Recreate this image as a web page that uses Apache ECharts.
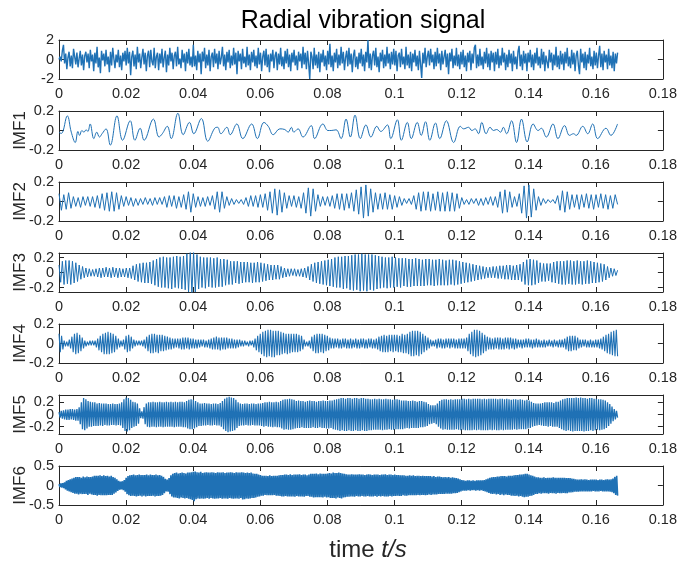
<!DOCTYPE html>
<html><head><meta charset="utf-8">
<script src="https://cdn.jsdelivr.net/npm/echarts@6/dist/echarts.min.js"></script>
<style>html,body{margin:0;padding:0;background:#fff}#c{width:680px;height:562px}</style>
</head><body><div id="c"></div>
<script>
// ---------- data ----------
const DURATION = 0.1665; // s, end of record
const xTicks = [0, 0.02, 0.04, 0.06, 0.08, 0.1, 0.12, 0.14, 0.16, 0.18];
const panelNames = ['', 'IMF1', 'IMF2', 'IMF3', 'IMF4', 'IMF5', 'IMF6'];
const yTicks = [[-2, 0, 2], [-0.2, 0, 0.2], [-0.2, 0, 0.2], [-0.2, 0, 0.2], [-0.2, 0, 0.2], [-0.2, 0, 0.2], [-0.5, 0, 0.5]];
const yLimits = [[-2, 2], [-0.2, 0.2], [-0.2, 0.2], [-0.26, 0.26], [-0.2, 0.2], [-0.32, 0.32], [-0.5, 0.5]];

const raw = [
0,.3,-.2,.9,1.5,-.4,.6,-1,.2,.8,-.7,.4,-.9,1.1,.3,-.5,.7,-.8,.1,.9,-.6,.5,-1.1,.4,.8,-.3,.6,-.9,1,-.2,
.5,-1.2,.7,-.4,1.3,-.8,.2,-1.4,.9,-.1,.6,-.7,1,-.5,.3,-1.3,.8,-.6,1.2,.1,-.9,.5,-.3,1,-.8,.4,-1.1,.7,-.2,.9,
-.6,1.2,-.4,.8,-1.6,.3,.9,-.7,.5,-1,1.3,-.3,.6,-.9,.2,1.1,-.5,.7,-1.2,.4,.9,-.8,1,-.2,-.6,1.2,-.9,.3,.7,-1.1,
.6,-.4,1.1,-.8,.2,.9,-1.3,.5,-.6,1.2,-.2,.7,-1,.4,.8,-.7,1.3,-.5,.1,-.9,1,-.3,.6,-1.2,.8,-.4,1.1,-.6,.3,-.8,
1.5,-.7,.4,-1.1,.9,-.3,.6,-1.5,.8,-.2,1.2,-.9,.5,-.6,1,-1.2,.3,.7,-.8,1.1,-.4,.6,-1,.9,-.5,.2,1.3,-.7,.5,-1.1,
.8,-.3,1,-.9,.4,-.6,1.2,-.5,.7,-1.5,.9,-.2,.6,-1,1.1,-.4,.3,-.8,1.3,-.6,.5,-1.1,.8,-.3,1,-.7,.4,-.9,1.2,-.5,
.7,-1.2,.3,.9,-.6,1.1,-.8,.5,-1.3,.6,-.2,1,-.9,.4,.8,-1.1,.6,-.5,1.2,-.7,.3,-1,.9,-.4,1.1,-.8,.5,-1.2,.7,-.3,
1,-.6,.4,-1.1,.8,-.2,.6,-.9,1.3,-.5,.7,-1,.9,-.4,-2,.8,.3,-1,1.2,-.6,.5,-.9,.8,-1.3,.6,-.3,1,-.7,.4,-1.1,
.9,-.5,1.6,-.8,.4,-1.2,.7,-.3,1.1,-.9,.5,-.6,1.3,-.4,.8,-1.1,.2,.9,-.7,1.2,-.5,.6,-1.3,.4,1,-.8,.3,-1,.7,-.4,
1.1,-.7,.5,-1.2,.8,-.3,2,-.9,.6,-1.1,.4,.9,-.6,1.2,-.8,.3,-1.3,.7,-.2,1,-.9,.5,-.7,1.3,-.4,.6,-1,.8,-.5,1.1,
-.6,.9,-1.2,.4,.7,-.8,1.1,-.5,.3,-1,1.3,-.6,.5,-.9,.8,-1.2,.6,-.3,1,-.7,.4,-1.1,.9,-.5,-1.9,.7,-.4,1.2,-.8,.3,
.9,-.6,1.1,-.3,.5,-1,.8,-.7,1.2,-.4,.6,-1.1,.9,-.5,.3,1,-.8,.6,-1.5,.7,-.2,1.1,-.9,.4,-.6,1.2,-.7,.5,-1,.8,
-.5,1,-.8,.4,-1.2,.7,-.3,.9,-1.1,.6,-.4,1.2,1.5,-.9,.5,-.7,1.1,-.6,.3,-1,.8,-.4,1.2,-.8,.6,-1.1,.9,-.3,.7,-1.2,
.8,-.5,1.1,-.9,.4,-.6,1.2,-.3,.7,-1.1,.5,-.8,1,-.4,.6,-1.2,.9,-.5,.3,-1,.8,1.4,-.7,.5,-1.1,.9,-.4,.6,-1.2,.7,
-.3,1,-.8,.5,-1.1,.7,-.4,1.2,-.6,.3,-.9,1.1,-.5,.8,-1.2,.4,.6,-.9,1,-.3,.7,-1.1,.5,-.6,1.3,-.8,.4,-1,.9,-.5,
.6,-1.1,.8,-.4,1.2,-.7,.3,-.9,1,-.5,.7,-1.2,.4,.9,-.6,-1.5,1.1,-.3,.6,-.9,.8,-1.1,.5,-.4,1.2,-.7,.3,-1,.9,-.6,
.7,-.9,.4,1.4,-.8,.6,-1.1,.9,-.3,.5,-1,1.1,-.6,.4,-.9,.8,-1.2,.6,-.4,.7
];

const imf1T = [0,0.0007,0.00248,0.00366,0.00485,0.00563,0.00613,0.00682,0.00741,0.0081,
0.0086,0.00929,0.01037,0.01126,0.01205,0.01284,0.01402,0.0153,0.01728,0.01896,
0.02123,0.02261,0.02419,0.02537,0.02813,0.02981,0.0308,0.03228,0.03346,0.03544,
0.03701,0.03889,0.04017,0.04244,0.04432,0.04639,0.04728,0.04826,0.05004,0.05103,
0.053,0.05478,0.05744,0.05912,0.06109,0.06237,0.06386,0.06583,0.06731,0.0683,
0.06928,0.06997,0.07126,0.07274,0.0752,0.07619,0.07866,0.08014,0.08112,0.0826,
0.08408,0.08556,0.08685,0.08823,0.08981,0.09148,0.09296,0.09474,0.09592,0.0979,
0.09889,0.10086,0.10204,0.10382,0.105,0.10678,0.10796,0.10925,0.11053,0.11221,
0.11349,0.11546,0.11763,0.11961,0.1206,0.12207,0.12306,0.12405,0.12504,0.12602,
0.1273,0.12849,0.12948,0.13046,0.13165,0.13244,0.13342,0.1349,0.13638,0.13786,
0.13954,0.14132,0.1428,0.14378,0.14526,0.14724,0.14872,0.15069,0.15217,0.15335,
0.15415,0.15612,0.1576,0.15908,0.16056,0.16303,0.16451,0.16648];
const imf1V = [-0.02,-0.03,0.15,-0.017,-0.123,-0.01,-0.05,0,-0.017,0.007,
-0.01,0.067,-0.083,-0.017,-0.067,-0.033,0.017,-0.15,0.15,-0.1,
0.1,-0.1,0.023,-0.1,0.117,-0.067,-0.033,0.043,-0.083,0.177,
-0.043,0.083,-0.033,0.123,-0.11,0.023,0.033,-0.033,0.033,-0.043,
0.067,-0.083,0.067,-0.083,0.083,0.043,-0.043,0.017,0.01,-0.017,
0.033,-0.017,0.017,-0.067,0.05,-0.083,0.067,0,0,0.007,
-0.083,0.117,-0.067,0.157,-0.083,0.057,-0.067,0.043,-0.01,0.057,
-0.083,0.11,-0.1,0.083,-0.083,0.083,-0.05,0.09,-0.1,0.077,
-0.083,0.1,-0.123,0.043,0.017,0.033,0,0.017,-0.033,0.083,
-0.033,0.033,0,0.01,-0.017,0.033,-0.033,0.1,-0.123,0.117,
-0.117,0.067,0,0.023,-0.067,0.067,-0.083,0.05,-0.05,-0.033,
-0.05,0.043,-0.033,0.067,-0.083,0.023,-0.05,0.067];

const imf2 = [
.08,-.09,.07,-.08,.09,-.07,.05,-.05,.04,-.06,.05,-.04,.05,-.05,
.05,-.06,.06,-.07,.08,-.09,.09,-.1,.1,-.1,.09,-.08,.06,-.05,
.05,-.04,.04,-.05,.03,-.04,.03,-.03,.04,-.03,.03,-.04,.04,-.03,
.04,-.03,.05,-.06,.06,-.05,.06,-.07,.05,-.06,.07,-.08,.1,-.11,
.08,-.06,.05,-.05,.04,-.05,.05,-.04,.06,-.08,.1,-.11,.1,-.07,
.05,-.04,.03,-.03,.02,-.02,.02,-.03,.04,-.05,.06,-.05,.06,-.06,
.07,-.06,.08,-.09,.1,-.12,.13,-.14,.12,-.11,.09,-.07,.06,-.05,
.06,-.06,.05,-.07,.09,-.12,.14,-.15,.13,-.1,.07,-.05,.05,-.04,
.05,-.05,.06,-.07,.08,-.08,.08,-.09,.08,-.07,.09,-.1,.12,-.13,
.15,-.17,.17,-.15,.13,-.11,.09,-.08,.08,-.08,.09,-.08,.07,-.08,
.06,-.06,.05,-.04,.03,-.02,.03,-.03,.06,-.08,.09,-.1,.1,-.09,
.1,-.1,.08,-.09,.1,-.1,.09,-.1,.1,-.1,.09,-.1,.08,-.07,
.04,-.03,.02,-.03,.03,-.02,.03,-.04,.03,-.04,.04,-.03,.05,-.04,
.05,-.06,.1,-.12,.12,-.11,.1,-.06,.05,-.05,.08,-.12,.16,-.17,
.17,-.16,.13,-.09,.05,-.04,.03,-.02,.02,-.01,.02,-.02,.06,-.09,
.11,-.11,.1,-.08,.07,-.06,.07,-.08,.07,-.06,.08,-.07,.07,-.08,
.07,-.06,.08,-.07,.07,-.08,.06,-.07,.07,-.03
];

const imf3 = [
.1,-.13,.15,-.16,.16,-.15,.16,-.16,.15,-.14,.13,-.12,.1,-.09,.08,-.07,.06,-.06,.05,-.05,
.04,-.05,.05,-.06,.06,-.07,.06,-.06,.07,-.06,.06,-.07,.07,-.06,.06,-.07,.06,-.06,.05,-.06,
.06,-.07,.06,-.08,.09,-.1,.11,-.12,.12,-.13,.13,-.14,.13,-.14,.14,-.15,.16,-.17,.18,-.19,
.2,-.2,.21,-.2,.2,-.21,.2,-.22,.21,-.2,.22,-.21,.21,-.22,.22,-.23,.25,-.26,.27,-.27,
.27,-.26,.24,-.22,.21,-.2,.2,-.21,.2,-.19,.2,-.2,.19,-.2,.2,-.19,.18,-.19,.18,-.17,
.17,-.16,.15,-.16,.15,-.14,.15,-.15,.14,-.14,.14,-.13,.14,-.13,.13,-.14,.13,-.13,.14,-.13,
.13,-.12,.12,-.11,.11,-.1,.1,-.1,.1,-.09,.1,-.09,.08,-.07,.06,-.06,.05,-.05,.05,-.04,
.05,-.05,.04,-.05,.05,-.06,.06,-.07,.08,-.1,.11,-.12,.13,-.14,.14,-.15,.15,-.16,.16,-.17,
.17,-.18,.18,-.19,.2,-.2,.21,-.2,.21,-.22,.22,-.21,.22,-.23,.23,-.24,.24,-.23,.24,-.25,
.25,-.24,.24,-.25,.24,-.23,.24,-.24,.23,-.22,.22,-.21,.21,-.2,.2,-.21,.2,-.2,.21,-.2,
.2,-.19,.19,-.2,.19,-.18,.19,-.19,.18,-.19,.18,-.18,.19,-.18,.18,-.18,.17,-.18,.18,-.17,
.18,-.17,.17,-.18,.17,-.17,.18,-.17,.17,-.17,.16,-.17,.17,-.16,.17,-.17,.16,-.16,.15,-.15,
.14,-.14,.13,-.13,.12,-.12,.11,-.11,.1,-.1,.09,-.09,.08,-.08,.07,-.07,.07,-.07,.08,-.07,
.08,-.08,.09,-.08,.09,-.09,.1,-.09,.1,-.1,.09,-.1,.1,-.1,.11,-.12,.14,-.16,.17,-.17,
.18,-.17,.17,-.16,.16,-.14,.13,-.12,.12,-.12,.12,-.11,.12,-.13,.14,-.14,.15,-.15,.15,-.16,
.15,-.16,.16,-.15,.16,-.16,.15,-.16,.16,-.15,.15,-.16,.15,-.15,.16,-.15,.15,-.14,.14,-.14,
.13,-.13,.12,-.12,.11,-.1,.08,-.07,.06,-.05,.05,-.04,.03
];

const imf4 = [
.1,-.09,.08,-.06,.03,-.03,.02,-.03,.04,-.05,.07,-.09,.1,-.11,.11,-.1,.09,-.08,.06,-.05,.03,-.03,.02,-.02,.03,-.02,
.03,-.02,.03,-.04,.05,-.07,.08,-.09,.1,-.11,.11,-.11,.12,-.11,.11,-.1,.1,-.09,.08,-.06,.05,-.04,.03,-.03,.04,-.06,
.08,-.09,.09,-.08,.07,-.05,.04,-.03,.03,-.02,.03,-.02,.03,-.03,.04,-.05,.07,-.08,.09,-.1,.1,-.1,.1,-.09,.09,-.1,
.09,-.08,.09,-.08,.08,-.07,.07,-.06,.06,-.06,.05,-.05,.05,-.04,.05,-.05,.05,-.06,.06,-.06,.06,-.05,.06,-.06,.05,-.05,
.05,-.05,.04,-.05,.04,-.04,.04,-.03,.04,-.04,.03,-.04,.04,-.05,.05,-.06,.06,-.06,.07,-.06,.06,-.07,.06,-.06,.06,-.06,
.06,-.05,.05,-.05,.05,-.05,.04,-.05,.04,-.04,.04,-.03,.03,-.03,.03,-.02,.02,-.03,.03,-.02,.03,-.04,.05,-.07,.08,-.09,
.1,-.11,.12,-.13,.13,-.14,.14,-.13,.14,-.14,.13,-.14,.13,-.12,.13,-.12,.12,-.11,.11,-.1,.1,-.11,.1,-.1,.1,-.09,
.1,-.09,.1,-.09,.09,-.08,.08,-.06,.04,-.03,.02,-.03,.03,-.05,.07,-.08,.09,-.1,.1,-.1,.1,-.09,.1,-.1,.09,-.08,
.08,-.07,.06,-.05,.05,-.05,.05,-.04,.05,-.05,.04,-.05,.05,-.04,.05,-.05,.04,-.05,.05,-.05,.04,-.04,.05,-.05,.04,-.05,
.05,-.04,.05,-.05,.04,-.05,.05,-.04,.05,-.05,.04,-.05,.05,-.06,.07,-.08,.08,-.09,.09,-.09,.08,-.09,.09,-.08,.09,-.09,
.09,-.08,.09,-.09,.08,-.09,.1,-.1,.09,-.1,.1,-.11,.12,-.13,.13,-.13,.13,-.12,.13,-.13,.12,-.11,.1,-.09,.08,-.07,
.06,-.05,.04,-.03,.03,-.03,.04,-.05,.05,-.04,.05,-.05,.04,-.05,.05,-.04,.05,-.05,.05,-.04,.05,-.05,.04,-.05,.05,-.05,
.05,-.05,.05,-.05,.06,-.08,.1,-.11,.12,-.13,.14,-.14,.14,-.13,.13,-.12,.11,-.1,.09,-.08,.07,-.06,.06,-.06,.05,-.06,
.06,-.05,.06,-.06,.06,-.06,.05,-.06,.06,-.05,.06,-.06,.06,-.05,.05,-.06,.05,-.05,.04,-.04,.04,-.05,.04,-.04,.05,-.04,
.05,-.04,.04,-.05,.04,-.04,.05,-.04,.04,-.04,.03,-.04,.04,-.04,.03,-.03,.04,-.03,.03,-.04,.04,-.03,.03,-.04,.04,-.04,
.04,-.04,.05,-.06,.07,-.08,.08,-.08,.08,-.07,.08,-.07,.06,-.05,.04,-.04,.04,-.03,.04,-.04,.03,-.04,.04,-.04,.03,-.04,
.04,-.04,.04,-.05,.05,-.06,.07,-.08,.09,-.1,.1,-.11,.12,-.12,.13,-.13,.14,-.13
];

const imf5 = [
.04,-.05,.06,-.07,.07,-.08,.08,-.09,.08,-.09,.09,-.08,.09,-.09,.08,-.1,.09,-.1,.12,-.16,.2,-.24,.27,-.26,.25,-.23,.22,-.2,.21,-.2,
.2,-.19,.2,-.19,.18,-.19,.19,-.18,.18,-.19,.18,-.17,.18,-.18,.17,-.18,.17,-.17,.18,-.17,.17,-.18,.17,-.17,.18,-.18,.2,-.22,.25,-.27,
.28,-.28,.27,-.26,.24,-.22,.21,-.2,.2,-.19,.18,-.15,.1,-.06,.05,-.07,.12,-.16,.18,-.2,.2,-.21,.2,-.2,.21,-.2,.2,-.21,.2,-.2,
.21,-.2,.2,-.21,.2,-.2,.21,-.2,.2,-.2,.21,-.2,.2,-.21,.21,-.2,.2,-.2,.21,-.2,.21,-.21,.2,-.21,.22,-.23,.24,-.24,.25,-.24,
.24,-.23,.22,-.21,.2,-.19,.18,-.19,.18,-.18,.19,-.18,.18,-.17,.18,-.18,.17,-.18,.18,-.17,.18,-.18,.17,-.18,.19,-.2,.22,-.24,.26,-.27,
.28,-.29,.29,-.28,.28,-.27,.27,-.26,.24,-.22,.2,-.19,.18,-.18,.17,-.18,.18,-.17,.18,-.18,.17,-.18,.18,-.17,.18,-.18,.17,-.18,.18,-.18,
.18,-.19,.19,-.2,.2,-.19,.2,-.2,.21,-.2,.2,-.21,.2,-.2,.21,-.21,.2,-.21,.22,-.23,.24,-.25,.25,-.24,.25,-.25,.26,-.25,.25,-.24,
.24,-.23,.22,-.22,.23,-.22,.22,-.21,.22,-.22,.21,-.22,.22,-.22,.23,-.22,.22,-.21,.22,-.22,.21,-.22,.22,-.21,.22,-.22,.23,-.22,.22,-.23,
.22,-.23,.23,-.22,.23,-.24,.24,-.25,.25,-.26,.26,-.27,.27,-.26,.27,-.27,.26,-.27,.27,-.26,.27,-.27,.26,-.27,.27,-.26,.27,-.27,.26,-.27,
.27,-.26,.27,-.27,.26,-.27,.26,-.26,.25,-.26,.25,-.25,.26,-.25,.25,-.25,.26,-.25,.25,-.26,.25,-.25,.26,-.25,.25,-.24,.25,-.25,.24,-.25,
.25,-.24,.25,-.24,.24,-.24,.23,-.24,.23,-.23,.23,-.22,.22,-.23,.22,-.22,.23,-.22,.22,-.22,.21,-.22,.22,-.21,.22,-.21,.21,-.2,.2,-.19,
.17,-.16,.15,-.15,.15,-.14,.15,-.16,.18,-.2,.22,-.23,.24,-.25,.25,-.24,.25,-.25,.24,-.25,.25,-.25,.24,-.25,.25,-.24,.25,-.25,.25,-.26,
.26,-.25,.26,-.26,.25,-.26,.26,-.26,.25,-.26,.26,-.25,.26,-.26,.26,-.25,.26,-.26,.25,-.26,.26,-.26,.25,-.26,.26,-.25,.26,-.26,.26,-.25,
.26,-.26,.25,-.26,.26,-.25,.26,-.26,.25,-.25,.26,-.25,.25,-.25,.24,-.25,.25,-.24,.25,-.25,.24,-.24,.25,-.24,.24,-.24,.23,-.24,.24,-.23,
.23,-.22,.21,-.2,.19,-.19,.18,-.18,.18,-.17,.18,-.18,.19,-.19,.2,-.19,.2,-.2,.2,-.19,.2,-.2,.19,-.2,.21,-.2,.21,-.22,.23,-.24,
.25,-.26,.26,-.27,.27,-.26,.27,-.27,.27,-.28,.27,-.27,.28,-.27,.27,-.27,.28,-.27,.27,-.28,.27,-.27,.26,-.27,.27,-.26,.27,-.27,.26,-.26,
.26,-.25,.25,-.26,.25,-.25,.24,-.24,.23,-.22,.2,-.19,.17,-.15,.13,-.11,.09,-.08,.06,-.05
];

const imf6 = [
.03,-.04,.05,-.05,.06,-.07,.08,-.1,.12,-.13,.14,-.15,.16,-.17,.18,-.19,.2,-.21,.22,-.21,.22,-.23,.22,-.21,.2,-.22,.23,-.22,.21,-.22,.23,-.24,.22,-.21,.22,-.23,
.23,-.24,.25,-.24,.25,-.26,.25,-.24,.26,-.25,.24,-.25,.26,-.25,.24,-.25,.25,-.24,.23,-.24,.25,-.24,.22,-.21,.2,-.18,.16,-.14,.12,-.11,.1,-.1,.11,-.12,.14,-.16,
.2,-.22,.24,-.25,.26,-.27,.27,-.26,.28,-.27,.26,-.28,.27,-.27,.28,-.26,.27,-.28,.27,-.26,.27,-.28,.28,-.27,.26,-.27,.28,-.27,.27,-.26,.27,-.28,.28,-.27,.26,-.27,
.27,-.26,.25,-.24,.22,-.2,.17,-.15,.15,-.16,.19,-.22,.26,-.28,.3,-.31,.32,-.31,.33,-.32,.31,-.33,.32,-.31,.33,-.32,.32,-.33,.31,-.32,.33,-.34,.33,-.35,.34,-.37,
.35,-.4,.36,-.35,.34,-.33,.33,-.34,.35,-.33,.32,-.34,.33,-.33,.34,-.32,.33,-.34,.33,-.32,.34,-.33,.33,-.34,.32,-.33,.34,-.33,.33,-.32,.33,-.34,.34,-.33,.32,-.33,
.33,-.34,.33,-.32,.34,-.33,.33,-.34,.32,-.33,.34,-.33,.33,-.34,.33,-.32,.34,-.36,.33,-.35,.32,-.33,.33,-.34,.32,-.33,.33,-.32,.31,-.32,.3,-.31,.3,-.29,.28,-.28,
.27,-.26,.25,-.26,.25,-.24,.25,-.25,.24,-.25,.26,-.25,.24,-.25,.25,-.24,.25,-.26,.25,-.26,.26,-.27,.27,-.28,.27,-.28,.28,-.27,.28,-.28,.27,-.28,.29,-.28,.27,-.28,
.28,-.29,.28,-.27,.28,-.28,.29,-.28,.27,-.28,.28,-.29,.28,-.27,.26,-.27,.28,-.29,.3,-.29,.3,-.31,.3,-.3,.31,-.3,.29,-.3,.31,-.3,.3,-.31,.3,-.29,.3,-.31,
.31,-.3,.32,-.32,.31,-.32,.33,-.32,.32,-.33,.32,-.31,.33,-.32,.32,-.33,.31,-.31,.3,-.3,.29,-.29,.28,-.29,.28,-.28,.29,-.28,.28,-.29,.28,-.27,.28,-.28,.29,-.28,
.28,-.27,.28,-.28,.27,-.28,.28,-.27,.29,-.28,.28,-.28,.27,-.28,.28,-.27,.28,-.29,.28,-.27,.27,-.28,.28,-.27,.28,-.28,.29,-.28,.27,-.28,.28,-.27,.28,-.28,.27,-.27,
.28,-.27,.27,-.26,.27,-.27,.26,-.27,.26,-.25,.26,-.26,.25,-.26,.25,-.25,.26,-.25,.25,-.25,.26,-.25,.24,-.25,.25,-.24,.25,-.25,.24,-.24,.25,-.24,.24,-.25,.24,-.24,
.24,-.23,.24,-.24,.23,-.23,.24,-.23,.22,-.23,.23,-.22,.23,-.22,.22,-.22,.21,-.22,.22,-.21,.21,-.21,.22,-.21,.2,-.21,.21,-.2,.2,-.2,.19,-.19,.18,-.17,.16,-.15,
.14,-.13,.13,-.13,.12,-.13,.13,-.12,.13,-.13,.12,-.12,.13,-.12,.12,-.13,.13,-.12,.13,-.13,.13,-.12,.13,-.14,.14,-.15,.16,-.17,.18,-.19,.2,-.21,.21,-.22,.22,-.21,
.22,-.23,.23,-.22,.23,-.24,.24,-.23,.24,-.25,.24,-.23,.23,-.24,.25,-.24,.25,-.26,.25,-.26,.26,-.27,.27,-.26,.27,-.28,.28,-.27,.28,-.29,.29,-.3,.3,-.29,.3,-.29,
.28,-.27,.26,-.26,.25,-.24,.23,-.22,.21,-.22,.21,-.2,.2,-.21,.2,-.2,.21,-.2,.19,-.2,.2,-.21,.2,-.19,.2,-.2,.21,-.2,.2,-.21,.2,-.19,.2,-.2,.2,-.2,
.2,-.19,.2,-.2,.19,-.2,.19,-.18,.19,-.18,.18,-.17,.17,-.16,.16,-.16,.15,-.16,.15,-.15,.16,-.15,.15,-.15,.16,-.15,.15,-.15,.14,-.15,.15,-.15,.15,-.14,.15,-.15,
.15,-.15,.14,-.15,.15,-.14,.15,-.15,.14,-.15,.15,-.15,.16,-.15,.15,-.16,.16,-.17,.18,-.2,.22,-.24,.25,-.26
];

// ---------- chart ----------
function uniform(vals) {
  const n = vals.length;
  return vals.map((v, i) => [i * DURATION / (n - 1), v]);
}
const seriesData = [
  uniform(raw),
  imf1T.map((t, i) => [t, imf1V[i]]),
  uniform(imf2), uniform(imf3), uniform(imf4), uniform(imf5), uniform(imf6)
];

const FONT = 'Liberation Sans, Arial, Helvetica, sans-serif';
const INK = '#262626';
const LINE = '#1f71b5';
const LINE_W = [1.4, 1, 1, 1, 1.1, 1.3, 1.6];
const GRID_LEFT = 59, GRID_W = 608, GRID_TOP0 = 40, GRID_STEP = 71, GRID_H = 39;
const Y_LABEL_GAP = 5;

const grids = [], xAxes = [], yAxes = [], series = [], graphics = [];
const fmtX = v => String(+(+v).toFixed(2));
for (let i = 0; i < 7; i++) {
  const top = GRID_TOP0 + GRID_STEP * i;
  grids.push({ left: GRID_LEFT, top: top, width: GRID_W, height: GRID_H, containLabel: false });
  const xBase = {
    type: 'value', gridIndex: i, min: 0, max: 0.18,
    splitLine: { show: false },
    axisLine: { show: true, onZero: false, lineStyle: { color: INK, width: 1 } },
    axisTick: { show: true, inside: true, length: 5, customValues: xTicks, lineStyle: { color: INK } }
  };
  xAxes.push(Object.assign({}, xBase, {
    position: 'bottom',
    axisLabel: { show: true, customValues: xTicks, formatter: fmtX, color: INK, fontSize: 14.5, fontFamily: FONT, margin: 7, hideOverlap: false, showMinLabel: true, showMaxLabel: true }
  }));
  xAxes.push(Object.assign({}, xBase, { position: 'top', axisLabel: { show: false } }));
  const yBase = {
    type: 'value', gridIndex: i, min: yLimits[i][0], max: yLimits[i][1],
    splitLine: { show: false },
    axisLine: { show: true, onZero: false, lineStyle: { color: INK, width: 1 } },
    axisTick: { show: true, inside: true, length: 5, customValues: yTicks[i], lineStyle: { color: INK } },
    axisLabel: { show: false }   // tick labels drawn below from the axis scale (the library drops close ones)
  };
  yAxes.push(Object.assign({}, yBase, { position: 'left' }));
  yAxes.push(Object.assign({}, yBase, { position: 'right' }));
  series.push({
    type: 'line', xAxisIndex: 2 * i, yAxisIndex: 2 * i, data: seriesData[i],
    showSymbol: false, symbol: 'none', smooth: i === 1 ? 0.4 : false,
    lineStyle: { color: LINE, width: LINE_W[i] }, clip: true, silent: true, animation: false
  });
  if (panelNames[i]) {
    graphics.push({
      type: 'text', x: 20, y: top + GRID_H / 2, rotation: Math.PI / 2,
      style: { text: panelNames[i], font: '17px ' + FONT, fill: INK, textAlign: 'center', textVerticalAlign: 'middle' }
    });
  }
}
graphics.push({
  type: 'text', x: 363, y: 21,
  style: { text: 'Radial vibration signal', font: '25px ' + FONT, fill: '#000', textAlign: 'center', textVerticalAlign: 'middle' }
});

const chart = echarts.init(document.getElementById('c'), null, { renderer: 'canvas' });
chart.setOption({
  animation: false,
  backgroundColor: '#fff',
  title: {
    text: '{a|time }{b|t/s}', left: 363, top: 533, textAlign: 'center',
    textStyle: { fontWeight: 'normal', rich: {
      a: { fontSize: 24, fontFamily: FONT, fontWeight: 'normal', color: INK },
      b: { fontSize: 24, fontFamily: FONT, fontWeight: 'normal', fontStyle: 'italic', color: INK } } }
  },
  grid: grids, xAxis: xAxes, yAxis: yAxes, series: series, graphic: graphics
});

// y tick labels, positioned through each panel's y scale
const labelGraphics = graphics.slice();
for (let i = 0; i < 7; i++) {
  yTicks[i].forEach(v => {
    const py = chart.convertToPixel({ yAxisIndex: 2 * i }, v);
    labelGraphics.push({
      type: 'text', x: GRID_LEFT - Y_LABEL_GAP, y: py,
      style: { text: String(v), font: '14.5px ' + FONT, fill: INK, textAlign: 'right', textVerticalAlign: 'middle' }
    });
  });
}
chart.setOption({ graphic: labelGraphics });
</script></body></html>
